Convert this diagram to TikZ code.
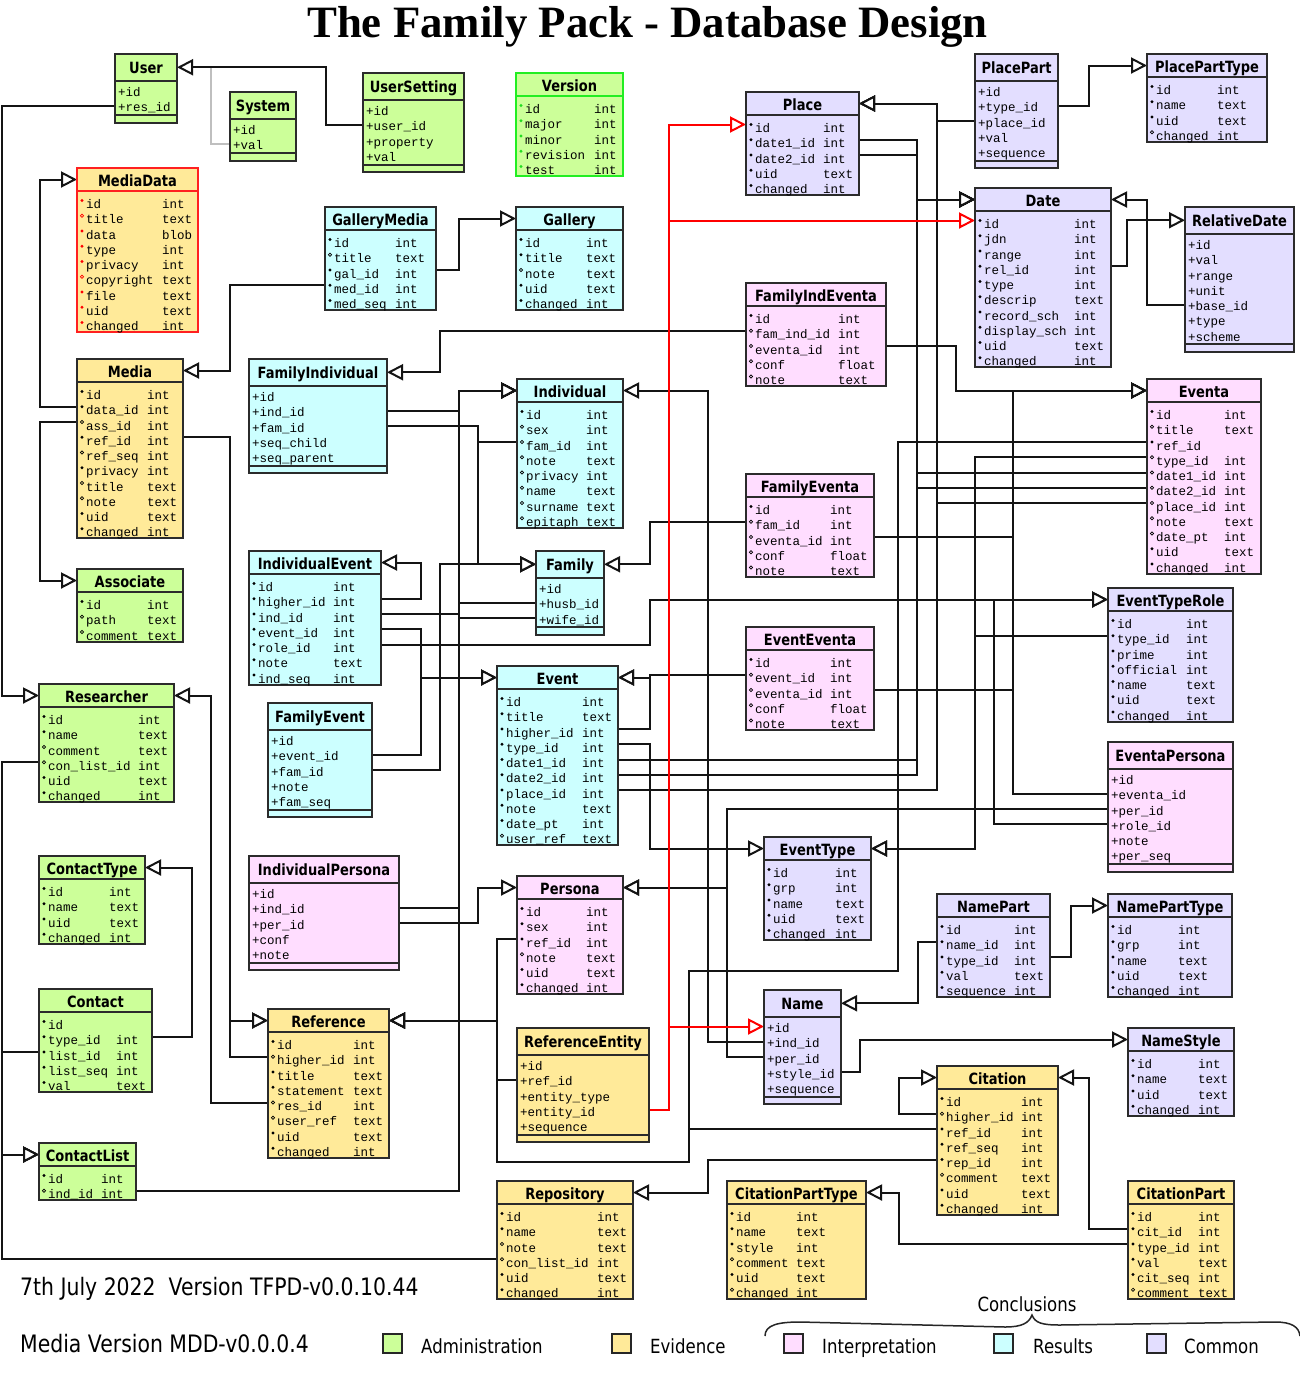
\documentclass[tikz,border=0pt]{standalone}
\usepackage{fontspec}
\usepackage{graphicx}
\setmainfont{Liberation Serif}
\setmonofont{Liberation Mono}
\newfontfamily\ttlfont[FakeStretch=0.84]{DejaVu Sans}
\newfontfamily\footf[FakeStretch=0.85]{DejaVu Sans}
\usetikzlibrary{arrows.meta,calc}
\pgfdeclarelayer{bg}
\pgfsetlayers{bg,main}
\definecolor{admF}{HTML}{CCFF99}\definecolor{admB}{HTML}{2B2B2B}\definecolor{admM}{HTML}{000000}
\definecolor{verF}{HTML}{CCFF99}\definecolor{verB}{HTML}{22EE22}\definecolor{verM}{HTML}{22DD22}
\definecolor{eviF}{HTML}{FFEA99}\definecolor{eviB}{HTML}{2B2B2B}\definecolor{eviM}{HTML}{000000}
\definecolor{redF}{HTML}{FFEA99}\definecolor{redB}{HTML}{FF2020}\definecolor{redM}{HTML}{FF0000}
\definecolor{intF}{HTML}{FFDDFF}\definecolor{intB}{HTML}{2B2B2B}\definecolor{intM}{HTML}{000000}
\definecolor{resF}{HTML}{CCFFFF}\definecolor{resB}{HTML}{2B2B2B}\definecolor{resM}{HTML}{000000}
\definecolor{comF}{HTML}{E3DEFF}\definecolor{comB}{HTML}{2B2B2B}\definecolor{comM}{HTML}{000000}
\newsavebox\ttlbox
\newdimen\ttlw
\newcommand\fitt[2]{\sbox\ttlbox{#2}\ttlw=\wd\ttlbox\ifdim\ttlw>#1pt\relax\pgfmathsetmacro\ttlf{#1/\ttlw}\scalebox{\ttlf}[1]{\usebox\ttlbox}\else\usebox\ttlbox\fi}
\def\mkf{f}
\tikzset{
  tbl/.style={line width=2pt},
  ttl/.style={anchor=base,inner sep=0pt,font=\ttlfont\bfseries\fontsize{15.5}{18}\selectfont},
  fld/.style={anchor=base west,inner sep=0pt,font=\ttfamily\fontsize{12.5}{15}\selectfont},
  conn/.style={line width=2pt,draw=black!92,line join=miter},
  conngray/.style={line width=2pt,draw=black!25},
  tri/.style={-{Triangle[length=16pt,width=16pt,fill=white]}},
  redc/.style={line width=2pt,draw=red,-{Triangle[length=16pt,width=16pt,fill=white]}},
  legbox/.style={line width=2pt,draw=black!85},
  leglab/.style={anchor=base west,inner sep=0pt,font=\footf\fontsize{19.5}{22}\selectfont}
}
% field table: name, L, T, R, type offset, colour key, title, rows
\newcommand\ftable[8]{%
  \pgfmathsetmacro\tL{#2}%
  \pgfmathsetmacro\tT{#3}%
  \pgfmathsetmacro\tR{#4}%
  \pgfmathsetmacro\tHB{\tT+23}%
  \gdef\tn{0}%
  \foreach \rr [count=\cnt] in {#8} {\xdef\tn{\cnt}}%
  \pgfmathsetmacro\tB{\tHB+3.75+15.25*\tn}%
  \pgfmathsetmacro\tHC{(\tT+\tHB)/2}%
  \pgfmathsetmacro\tMaxW{\tR-\tL-8}%
  \draw[tbl,fill=#6F,draw=#6B] (\tL,\tT) rectangle (\tR,\tB);
  \draw[tbl,draw=#6B] (\tL,\tHB) -- (\tR,\tHB);
  \node[ttl] (#1) at ({(\tL+\tR)/2},\tHC+7) {\fitt{\tMaxW}{#7}};
  \coordinate (#1-h-W) at (\tL,\tHC);
  \coordinate (#1-h-E) at (\tR,\tHC);
  \foreach \mk/\fld/\typ [count=\i from 0] in {#8} {
    \pgfmathsetmacro\ry{\tHB+9.5+15.25*\i}
    \coordinate (#1-\i-W) at (\tL,\ry);
    \coordinate (#1-\i-E) at (\tR,\ry);
    \node[fld] at (\tL+9,\ry+8) {\fld};
    \node[fld] at (\tL+#5,\ry+8) {\typ};
    \ifx\mk\mkf
      \fill[#6M] (\tL+5,\ry) circle (1.6pt);
    \else
      \draw[#6M,line width=0.6pt] (\tL+5,\ry) circle (1.6pt);
    \fi
  }
}
% plus table: name, L, T, R, colour key, title, rows
\newcommand\ptable[7]{%
  \pgfmathsetmacro\tL{#2}%
  \pgfmathsetmacro\tT{#3}%
  \pgfmathsetmacro\tR{#4}%
  \pgfmathsetmacro\tHB{\tT+26.5}%
  \gdef\tn{0}%
  \foreach \rr [count=\cnt] in {#7} {\xdef\tn{\cnt}}%
  \pgfmathsetmacro\tS{\tHB+4+15.25*\tn}%
  \pgfmathsetmacro\tB{\tS+7.5}%
  \pgfmathsetmacro\tHC{(\tT+\tHB)/2}%
  \pgfmathsetmacro\tMaxW{\tR-\tL-8}%
  \draw[tbl,fill=#5F,draw=#5B] (\tL,\tT) rectangle (\tR,\tB);
  \draw[tbl,draw=#5B] (\tL,\tHB) -- (\tR,\tHB);
  \draw[tbl,draw=#5B] (\tL,\tS) -- (\tR,\tS);
  \node[ttl] (#1) at ({(\tL+\tR)/2},\tHC+6.5) {\fitt{\tMaxW}{#6}};
  \coordinate (#1-h-W) at (\tL,\tHC);
  \coordinate (#1-h-E) at (\tR,\tHC);
  \foreach \fld [count=\i from 0] in {#7} {
    \pgfmathsetmacro\ry{\tHB+10+15.25*\i}
    \coordinate (#1-\i-W) at (\tL,\ry);
    \coordinate (#1-\i-E) at (\tR,\ry);
    \node[fld] at (\tL+3,\ry+6) {\fld};
  }
}
\begin{document}
\begin{tikzpicture}[x=1pt,y=-1pt]
\useasboundingbox (0,0) rectangle (1300,1385);
\begin{pgfonlayer}{bg}
\fill[white] (0,0) rectangle (1300,1385);
\end{pgfonlayer}

\node[anchor=base,inner sep=0pt,font=\bfseries\fontsize{44.8}{50}\selectfont] (title) at (647.5,37) {The Family Pack - Database Design};

% ---------------- tables ----------------
\ptable{User}{115}{54}{177}{adm}{User}{+id,+res\_id}
\ptable{System}{230}{92}{296}{adm}{System}{+id,+val}
\ptable{UserSetting}{363}{73}{464}{adm}{UserSetting}{+id,+user\_id,+property,+val}
\ftable{Version}{516}{73}{623}{78}{ver}{Version}{f/id/int,f/major/int,f/minor/int,f/revision/int,f/test/int}
\ftable{MediaData}{77}{168}{198}{85}{red}{MediaData}{f/id/int,o/title/text,f/data/blob,f/type/int,f/privacy/int,o/copyright/text,f/file/text,f/uid/text,f/changed/int}
\ftable{GalleryMedia}{325}{207}{436}{70}{res}{GalleryMedia}{f/id/int,o/title/text,f/gal\_id/int,f/med\_id/int,f/med\_seq/int}
\ftable{Gallery}{516}{207}{623}{70}{res}{Gallery}{f/id/int,f/title/text,o/note/text,f/uid/text,f/changed/int}
\ftable{Place}{746}{92}{859}{77}{com}{Place}{f/id/int,f/date1\_id/int,f/date2\_id/int,f/uid/text,f/changed/int}
\ftable{FamilyIndEventa}{746}{283}{886}{92}{int}{FamilyIndEventa}{f/id/int,o/fam\_ind\_id/int,o/eventa\_id/int,o/conf/float,o/note/text}
\ptable{PlacePart}{975}{54}{1058}{com}{PlacePart}{+id,+type\_id,+place\_id,+val,+sequence}
\ftable{PlacePartType}{1147}{54}{1267}{70}{com}{PlacePartType}{f/id/int,f/name/text,f/uid/text,o/changed/int}
\ftable{Date}{975}{188}{1111}{99}{com}{Date}{f/id/int,f/jdn/int,f/range/int,f/rel\_id/int,f/type/int,f/descrip/text,f/record\_sch/int,f/display\_sch/int,f/uid/text,f/changed/int}
\ptable{RelativeDate}{1185}{207}{1294}{com}{RelativeDate}{+id,+val,+range,+unit,+base\_id,+type,+scheme}
\ftable{Eventa}{1147}{379}{1261}{77}{int}{Eventa}{f/id/int,o/title/text,f/ref\_id/{},o/type\_id/int,o/date1\_id/int,o/date2\_id/int,o/place\_id/int,o/note/text,o/date\_pt/int,f/uid/text,f/changed/int}
\ftable{Media}{77}{359}{183}{70}{evi}{Media}{f/id/int,f/data\_id/int,o/ass\_id/int,f/ref\_id/int,o/ref\_seq/int,f/privacy/int,o/title/text,o/note/text,f/uid/text,f/changed/int}
\ptable{FamilyIndividual}{249}{359}{387}{res}{FamilyIndividual}{+id,+ind\_id,+fam\_id,+seq\_child,+seq\_parent}
\ftable{Individual}{517}{379}{623}{69}{res}{Individual}{f/id/int,o/sex/int,o/fam\_id/int,o/note/text,o/privacy/int,o/name/text,o/surname/text,o/epitaph/text}
\ftable{FamilyEventa}{746}{474}{874}{84}{int}{FamilyEventa}{f/id/int,o/fam\_id/int,o/eventa\_id/int,o/conf/float,o/note/text}
\ftable{EventEventa}{746}{627}{874}{84}{int}{EventEventa}{f/id/int,o/event\_id/int,o/eventa\_id/int,o/conf/float,o/note/text}
\ptable{Family}{536}{551}{604}{res}{Family}{+id,+husb\_id,+wife\_id}
\ftable{IndividualEvent}{249}{551}{381}{84}{res}{IndividualEvent}{f/id/int,f/higher\_id/int,f/ind\_id/int,f/event\_id/int,f/role\_id/int,f/note/text,f/ind\_seq/int}
\ftable{Event}{497}{666}{618}{85}{res}{Event}{f/id/int,f/title/text,f/higher\_id/int,f/type\_id/int,f/date1\_id/int,f/date2\_id/int,f/place\_id/int,f/note/text,f/date\_pt/int,o/user\_ref/text}
\ptable{FamilyEvent}{268}{703}{372}{res}{FamilyEvent}{+id,+event\_id,+fam\_id,+note,+fam\_seq}
\ftable{Researcher}{39}{684}{174}{99}{adm}{Researcher}{f/id/int,f/name/text,o/comment/text,o/con\_list\_id/int,f/uid/text,f/changed/int}
\ftable{Associate}{77}{569}{183}{70}{adm}{Associate}{f/id/int,o/path/text,o/comment/text}
\ftable{EventTypeRole}{1108}{588}{1233}{78}{com}{EventTypeRole}{f/id/int,f/type\_id/int,f/prime/int,f/official/int,f/name/text,f/uid/text,f/changed/int}
\ptable{EventaPersona}{1108}{742}{1233}{int}{EventaPersona}{+id,+eventa\_id,+per\_id,+role\_id,+note,+per\_seq}
\ftable{EventType}{764}{837}{871}{71}{com}{EventType}{f/id/int,f/grp/int,f/name/text,f/uid/text,f/changed/int}
\ftable{ContactType}{39}{856}{145}{70}{adm}{ContactType}{f/id/int,f/name/text,f/uid/text,f/changed/int}
\ptable{IndividualPersona}{249}{856}{399}{int}{IndividualPersona}{+id,+ind\_id,+per\_id,+conf,+note}
\ftable{Persona}{517}{876}{623}{69}{int}{Persona}{f/id/int,f/sex/int,f/ref\_id/int,o/note/text,f/uid/text,f/changed/int}
\ftable{Contact}{39}{989}{152}{77}{adm}{Contact}{f/id/{},f/type\_id/int,f/list\_id/int,f/list\_seq/int,f/val/text}
\ftable{Reference}{268}{1009}{389}{85}{evi}{Reference}{f/id/int,o/higher\_id/int,f/title/text,f/statement/text,o/res\_id/int,o/user\_ref/text,f/uid/text,f/changed/int}
\ptable{ReferenceEntity}{517}{1028}{649}{evi}{ReferenceEntity}{+id,+ref\_id,+entity\_type,+entity\_id,+sequence}
\ftable{ContactList}{39}{1143}{136}{62}{adm}{ContactList}{f/id/int,o/ind\_id/int}
\ftable{Repository}{497}{1181}{633}{100}{evi}{Repository}{f/id/int,f/name/text,o/note/text,o/con\_list\_id/int,f/uid/text,f/changed/int}
\ptable{Name}{764}{990}{841}{com}{Name}{+id,+ind\_id,+per\_id,+style\_id,+sequence}
\ftable{NamePart}{937}{894}{1050}{77}{com}{NamePart}{f/id/int,f/name\_id/int,f/type\_id/int,f/val/text,f/sequence/int}
\ftable{NamePartType}{1108}{894}{1232}{70}{com}{NamePartType}{f/id/int,f/grp/int,f/name/text,f/uid/text,f/changed/int}
\ftable{NameStyle}{1128}{1028}{1234}{70}{com}{NameStyle}{f/id/int,f/name/text,f/uid/text,f/changed/int}
\ftable{Citation}{937}{1066}{1058}{84}{evi}{Citation}{f/id/int,o/higher\_id/int,f/ref\_id/int,f/ref\_seq/int,f/rep\_id/int,o/comment/text,f/uid/text,f/changed/int}
\ftable{CitationPartType}{727}{1181}{866}{69}{evi}{CitationPartType}{f/id/int,f/name/text,f/style/int,o/comment/text,f/uid/text,o/changed/int}
\ftable{CitationPart}{1128}{1181}{1234}{70}{evi}{CitationPart}{f/id/int,f/cit\_id/int,f/type\_id/int,f/val/text,f/cit\_seq/int,o/comment/text}

% ---------------- connectors ----------------
\begin{pgfonlayer}{bg}
\draw[conngray] (System-1-W) -| ($(User-h-E)+(34,0)$);
\draw[conn,tri] (UserSetting-1-W) -| ($(User-h-E)+(149,0)$) -- (User-h-E);
\draw[conn,tri] (User-1-W) -| ($(Researcher-h-W)+(-37,0)$) -- (Researcher-h-W);
\draw[conn,tri] (Media-1-W) -| ($(MediaData-h-W)+(-37,0)$) -- (MediaData-h-W);
\draw[conn,tri] (Media-2-W) -| ($(Associate-h-W)+(-37,0)$) -- (Associate-h-W);
\draw[conn,tri] (GalleryMedia-3-W) -| ($(Media-h-E)+(47,0)$) -- (Media-h-E);
\draw[conn,tri] (GalleryMedia-2-E) -| ($(Gallery-h-W)+(-57,0)$) -- (Gallery-h-W);
\draw[conn,tri] (Media-3-E) -| ($(Reference-h-W)+(-38,0)$) -- (Reference-h-W);
\draw[conn,tri] (Reference-1-W) -| ($(Reference-h-W)+(-38,0)$) -- (Reference-h-W);
\draw[conn,tri] (Reference-4-W) -| ($(Researcher-h-E)+(37,0)$) -- (Researcher-h-E);
\draw[conn,tri] (Researcher-3-W) -| ($(ContactList-h-W)+(-37,0)$) -- (ContactList-h-W);
\draw[conn,tri] (Contact-2-W) -| ($(ContactList-h-W)+(-37,0)$) -- (ContactList-h-W);
\draw[conn,tri] (Repository-3-W) -| ($(ContactList-h-W)+(-37,0)$) -- (ContactList-h-W);
\draw[conn,tri] (Contact-1-E) -| ($(ContactType-h-E)+(47,0)$) -- (ContactType-h-E);
% Individual
\foreach \s in {FamilyIndividual-1-E,IndividualEvent-2-E,Family-1-W,Family-2-W,IndividualPersona-1-E,ContactList-1-E}
  \draw[conn,tri] (\s) -| ($(Individual-h-W)+(-58,0)$) -- (Individual-h-W);
\draw[conn,tri] (Name-1-W) -| ($(Individual-h-E)+(85,0)$) -- (Individual-h-E);
% Family
\draw[conn,tri] (FamilyIndividual-2-E) -| ($(Family-h-W)+(-58,0)$) -- (Family-h-W);
\draw[conn,tri] (Individual-2-W) -| ($(Family-h-W)+(-58,0)$) -- (Family-h-W);
\draw[conn,tri] (FamilyEvent-2-E) -| ($(Family-h-W)+(-96,0)$) -- (Family-h-W);
\draw[conn,tri] (FamilyEventa-1-W) -| ($(Family-h-E)+(46,0)$) -- (Family-h-E);
% IndividualEvent / Event
\draw[conn,tri] (IndividualEvent-1-E) -| ($(IndividualEvent-h-E)+(40,0)$) -- (IndividualEvent-h-E);
\draw[conn,tri] (IndividualEvent-3-E) -| ($(Event-h-W)+(-76,0)$) -- (Event-h-W);
\draw[conn,tri] (FamilyEvent-1-E) -| ($(Event-h-W)+(-76,0)$) -- (Event-h-W);
\draw[conn,tri] (EventEventa-1-W) -| ($(Event-h-E)+(32,0)$) -- (Event-h-E);
\draw[conn,tri] (Event-2-E) -| ($(Event-h-E)+(32,0)$) -- (Event-h-E);
% EventTypeRole / EventType
\draw[conn,tri] (IndividualEvent-4-E) -| ($(EventTypeRole-h-W)+(-458,0)$) -- (EventTypeRole-h-W);
\draw[conn,tri] (EventaPersona-3-W) -| ($(EventTypeRole-h-W)+(-114,0)$) -- (EventTypeRole-h-W);
\draw[conn,tri] (Event-3-E) -| ($(EventType-h-W)+(-114,0)$) -- (EventType-h-W);
\draw[conn,tri] (EventTypeRole-1-W) -| ($(EventType-h-E)+(104,0)$) -- (EventType-h-E);
\draw[conn,tri] (Eventa-3-W) -| ($(EventType-h-E)+(104,0)$) -- (EventType-h-E);
% FamilyIndividual, Eventa
\draw[conn,tri] (FamilyIndEventa-1-W) -| ($(FamilyIndividual-h-E)+(53,0)$) -- (FamilyIndividual-h-E);
\draw[conn,tri] (FamilyIndEventa-2-E) -| ($(Eventa-h-W)+(-191,0)$) -- (Eventa-h-W);
\draw[conn,tri] (FamilyEventa-2-E) -| ($(Eventa-h-W)+(-134,0)$) -- (Eventa-h-W);
\draw[conn,tri] (EventEventa-2-E) -| ($(Eventa-h-W)+(-134,0)$) -- (Eventa-h-W);
\draw[conn,tri] (EventaPersona-1-W) -| ($(Eventa-h-W)+(-134,0)$) -- (Eventa-h-W);
% Date, Place
\foreach \s in {Place-1-E,Place-2-E,Event-4-E,Event-5-E,Eventa-4-W,Eventa-5-W}
  \draw[conn,tri] (\s) -| ($(Date-h-W)+(-58,0)$) -- (Date-h-W);
\foreach \s in {Event-6-E,Eventa-6-W,PlacePart-2-W}
  \draw[conn,tri] (\s) -| ($(Place-h-E)+(78,0)$) -- (Place-h-E);
\draw[conn,tri] (PlacePart-1-E) -| ($(PlacePartType-h-W)+(-58,0)$) -- (PlacePartType-h-W);
\draw[conn,tri] (Date-3-E) -| ($(RelativeDate-h-W)+(-58,0)$) -- (RelativeDate-h-W);
\draw[conn,tri] (RelativeDate-4-W) -| ($(Date-h-E)+(36,0)$) -- (Date-h-E);
% Persona
\draw[conn,tri] (IndividualPersona-2-E) -| ($(Persona-h-W)+(-39,0)$) -- (Persona-h-W);
\draw[conn,tri] (EventaPersona-2-W) -| ($(Persona-h-E)+(104,0)$) -- (Persona-h-E);
\draw[conn,tri] (Name-2-W) -| ($(Persona-h-E)+(104,0)$) -- (Persona-h-E);
% Reference (right)
\draw[conn,tri] (Persona-2-W) -| ($(Reference-h-E)+(108,0)$) -- (Reference-h-E);
\draw[conn,tri] (ReferenceEntity-1-W) -| ($(Reference-h-E)+(108,0)$) -- (Reference-h-E);
\draw[conn,tri] (Citation-2-W) -| (689,1162) -| ($(Reference-h-E)+(108,0)$) -- (Reference-h-E);
\draw[conn,tri] (Eventa-2-W) -| (898,971) -| (689,1162) -| ($(Reference-h-E)+(108,0)$) -- (Reference-h-E);
% Name group
\draw[conn,tri] (NamePart-1-W) -| ($(Name-h-E)+(77,0)$) -- (Name-h-E);
\draw[conn,tri] (NamePart-2-E) -| ($(NamePartType-h-W)+(-37,0)$) -- (NamePartType-h-W);
\draw[conn,tri] (Name-3-E) -| ($(NameStyle-h-W)+(-268,0)$) -- (NameStyle-h-W);
% Citation group
\draw[conn,tri] (Citation-1-W) -| ($(Citation-h-W)+(-38,0)$) -- (Citation-h-W);
\draw[conn,tri] (CitationPart-1-W) -| ($(Citation-h-E)+(31,0)$) -- (Citation-h-E);
\draw[conn,tri] (Citation-4-W) -| ($(Repository-h-E)+(75,0)$) -- (Repository-h-E);
\draw[conn,tri] (CitationPart-2-W) -| ($(CitationPartType-h-E)+(33,0)$) -- (CitationPartType-h-E);
% red entity links
\draw[redc] (ReferenceEntity-3-E) -| ($(Place-0-W)+(-77,0)$) -- (Place-0-W);
\draw[redc] (ReferenceEntity-3-E) -| ($(Date-0-W)+(-306,0)$) -- (Date-0-W);
\draw[redc] (ReferenceEntity-3-E) -| ($(Name-0-W)+(-95,0)$) -- (Name-0-W);
\end{pgfonlayer}

% ---------------- footer ----------------
\node[anchor=base west,inner sep=0pt,font=\footf\fontsize{24}{28}\selectfont] (date) at (20,1295) {7th July 2022\ \ Version TFPD-v0.0.10.44};
\node[anchor=base west,inner sep=0pt,font=\footf\fontsize{24}{28}\selectfont] (mver) at (20,1352) {Media Version MDD-v0.0.0.4};

\draw[legbox,fill=admF] (383,1334) rectangle (402,1353);
\node[leglab] (ladm) at (421,1353) {Administration};
\draw[legbox,fill=eviF] (612,1334) rectangle (631,1353);
\node[leglab] (levi) at (650,1353) {Evidence};
\draw[legbox,fill=intF] (784,1334) rectangle (803,1353);
\node[leglab] (lint) at (822,1353) {Interpretation};
\draw[legbox,fill=resF] (994,1334) rectangle (1013,1353);
\node[leglab] (lres) at (1033,1353) {Results};
\draw[legbox,fill=comF] (1147,1334) rectangle (1166,1353);
\node[leglab] (lcom) at (1184,1353) {Common};

\node[anchor=base,inner sep=0pt,font=\footf\fontsize{19.5}{22}\selectfont] (concl) at (1027,1311) {Conclusions};
\draw[line width=1.5pt,black!85] (765,1336) .. controls (765,1325) and (778,1322) .. (800,1322)
  -- (1005,1327) .. controls (1022,1327) and (1029,1323) .. (1032,1315)
  .. controls (1035,1323) and (1042,1325) .. (1060,1325)
  -- (1275,1322) .. controls (1292,1322) and (1299,1327) .. (1300,1336);
\end{tikzpicture}
\end{document}
